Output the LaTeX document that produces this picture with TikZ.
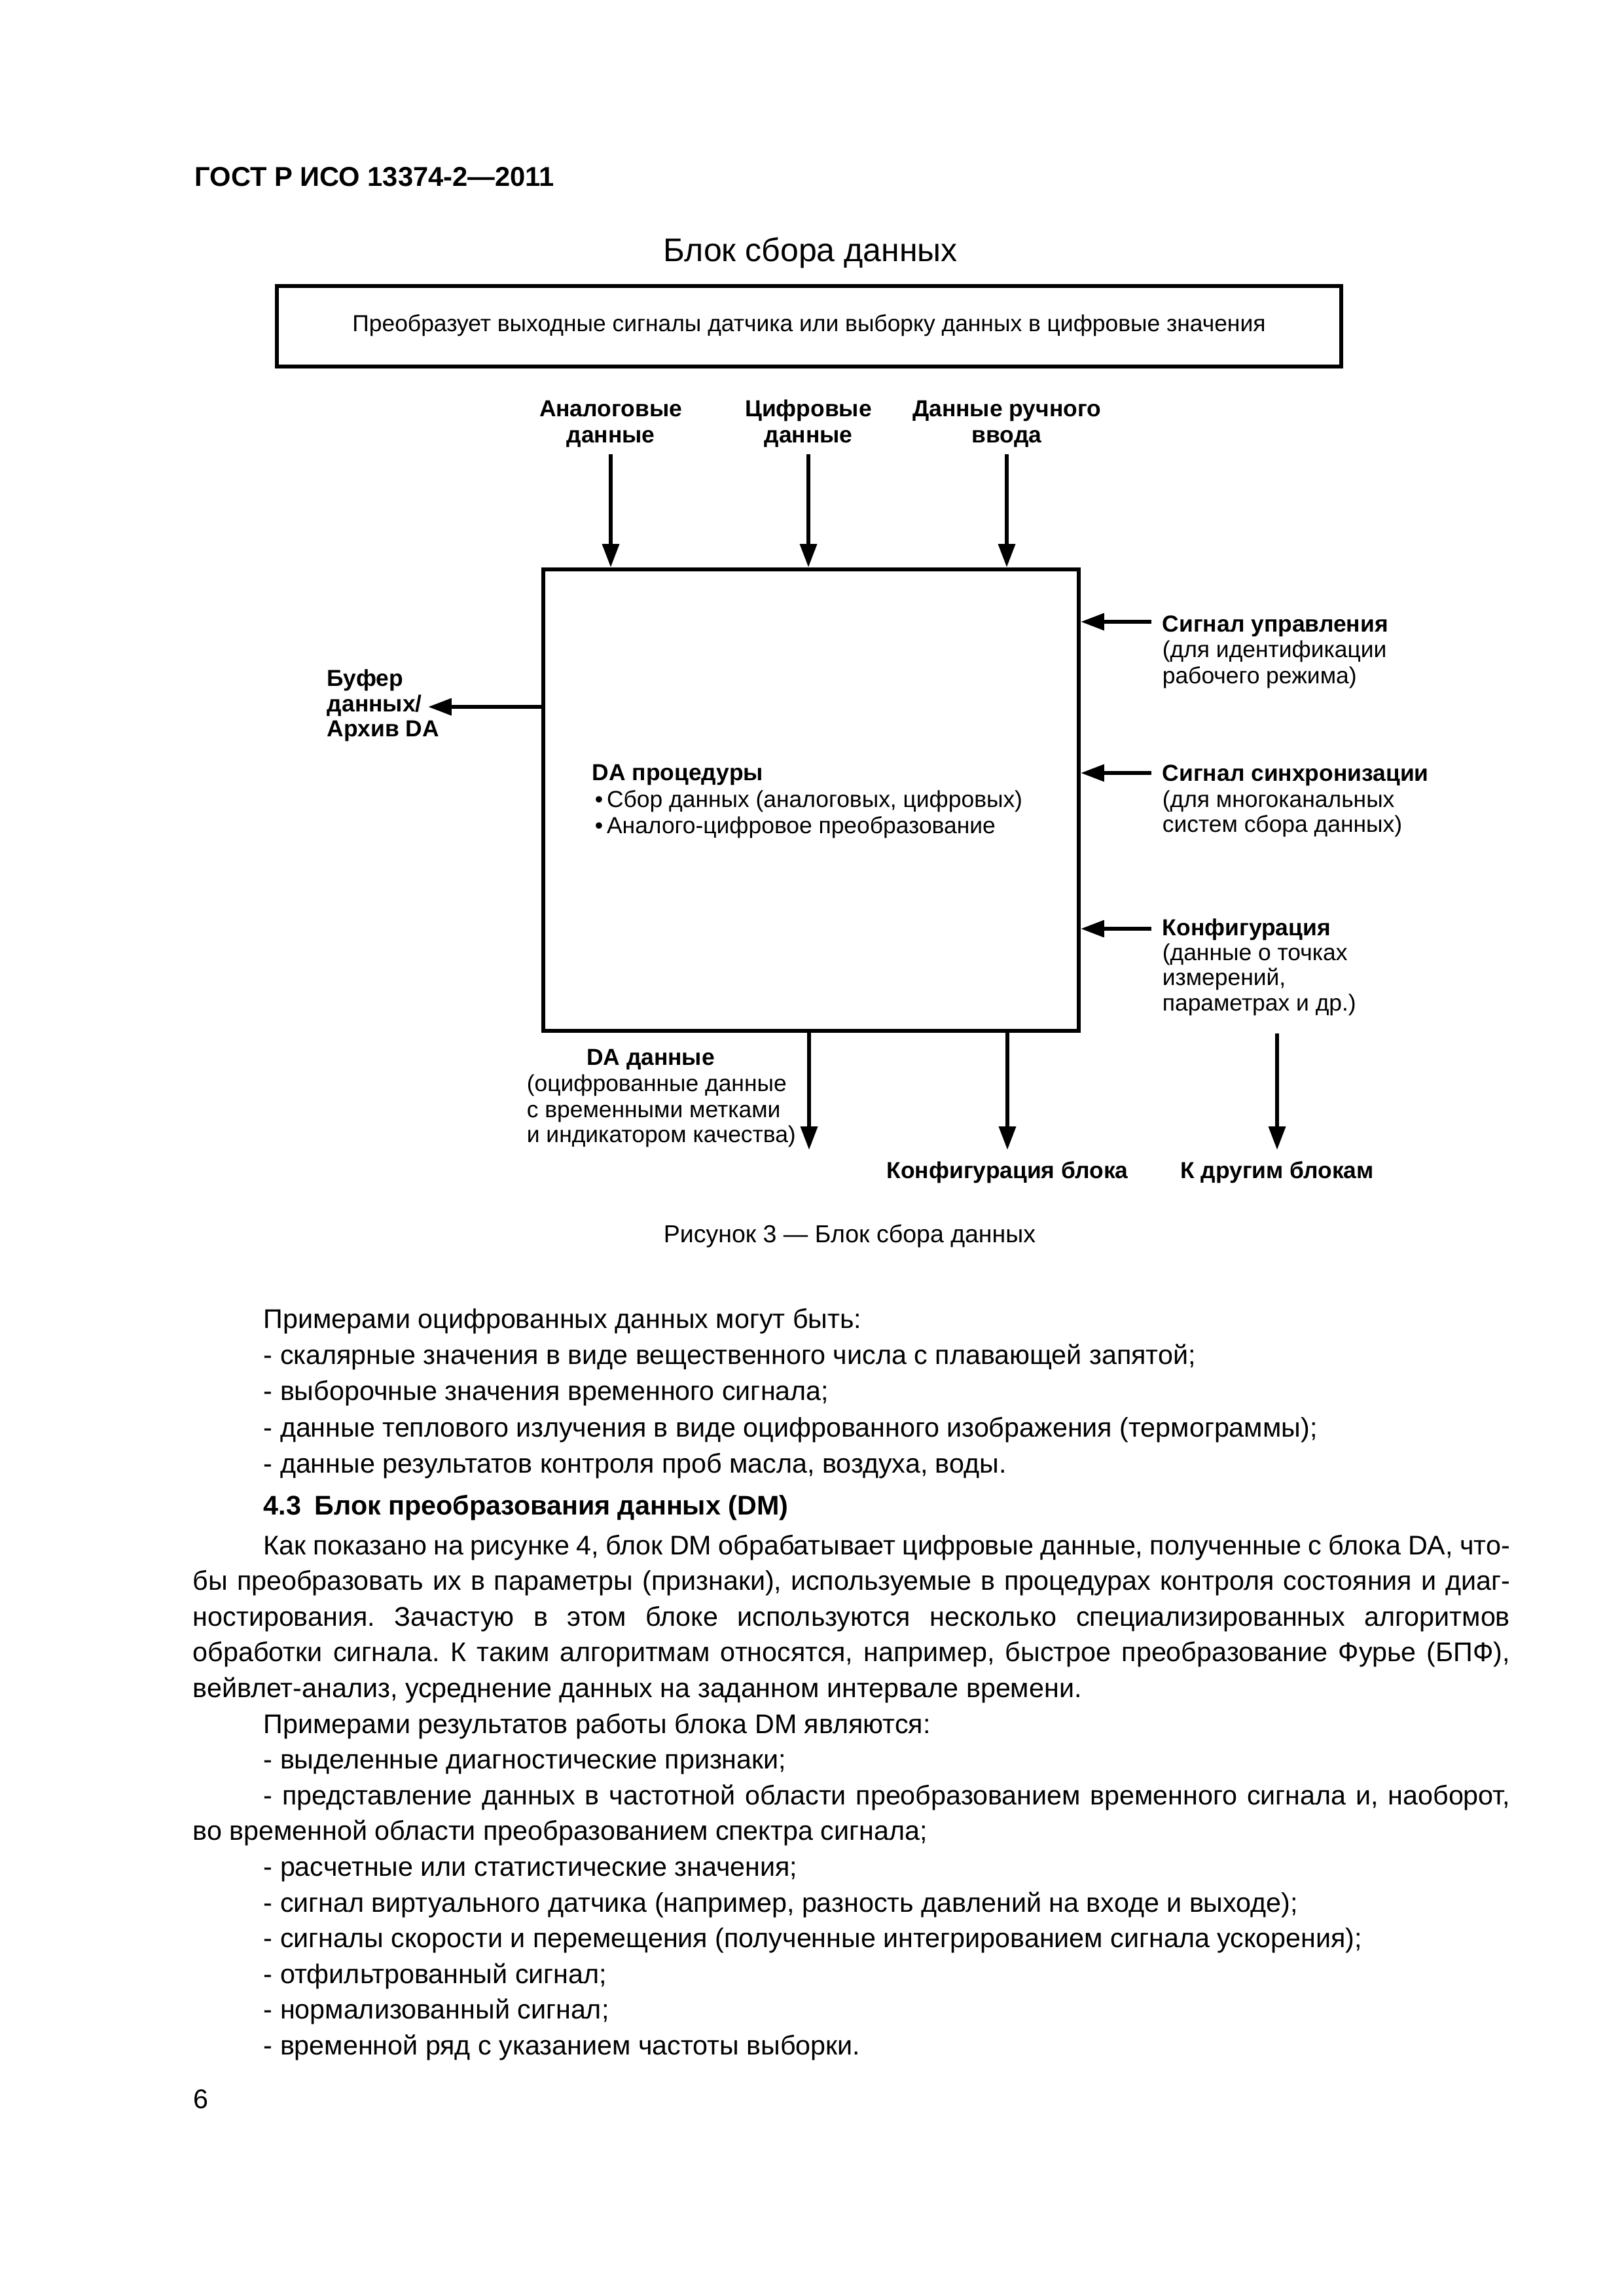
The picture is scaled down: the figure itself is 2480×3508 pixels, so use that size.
\documentclass[tikz,border=0pt]{standalone}
\usepackage{fontspec}
\setmainfont{Liberation Sans}
\usetikzlibrary{arrows.meta}
\newcommand\fsz[2]{\fontsize{#1}{#2}\selectfont}
\frenchspacing
\begin{document}
\begin{tikzpicture}[x=0.24pt,y=-0.24pt,
  lbl/.style={inner sep=0pt, anchor=base west, font=\fsz{8.5}{9.5}},
  lblb/.style={inner sep=0pt, anchor=base west, font=\fsz{8.5}{9.5}\bfseries},
  body/.style={inner sep=0pt, anchor=base west, font=\fsz{9.9}{12}\frenchspacing},
  bodyb/.style={inner sep=0pt, anchor=base west, font=\fsz{9.9}{12}\bfseries},
  boxst/.style={draw, line width=1.45pt, inner sep=0pt},
  arr/.style={line width=1.5pt, -{Triangle[length=8.6pt,width=6pt]}}
]
\fill[white] (0,0) rectangle (2480,3508);
\useasboundingbox (0,0) rectangle (2480,3508);

% header and title
\node[inner sep=0pt, anchor=base west, font=\fsz{10}{12}\bfseries] (hdr) at (297,285) {ГОСТ Р ИСО 13374-2—2011};
\node[inner sep=0pt, anchor=base, font=\fsz{12}{14}] (title) at (1238,400) {Блок сбора данных};

% top box
\node[boxst, minimum width=390.2pt, minimum height=29.5pt] (topbox) at (1236,498.5) {};
\node[inner sep=0pt, anchor=base, font=\fsz{8.5}{9.5}] (toptext) at (1236,507)
  {Преобразует выходные сигналы датчика или выборку данных в цифровые значения};

% main box
\node[boxst, minimum width=196.3pt, minimum height=169.2pt] (mainbox) at (1239,1222.5) {};
\node[lblb] (proc) at (904,1192) {DA процедуры};
\node[lbl] (proc1) at (908,1233) {•\,Сбор данных (аналоговых, цифровых)};
\node[lbl] (proc2) at (908,1273) {•\,Аналого-цифровое преобразование};

% inputs from top
\node[lblb, anchor=base] (inAa) at (933,637) {Аналоговые};
\node[lblb, anchor=base] (inAb) at (933,677) {данные};
\node[lblb, anchor=base] (inBa) at (1235,637) {Цифровые};
\node[lblb, anchor=base] (inBb) at (1235,677) {данные};
\node[lblb, anchor=base] (inCa) at (1538,637) {Данные ручного};
\node[lblb, anchor=base] (inCb) at (1538,677) {ввода};
\coordinate (inA) at (933,694);
\coordinate (inB) at (1235,694);
\coordinate (inC) at (1538,694);
\draw[arr] (inA) -- (inA |- mainbox.north);
\draw[arr] (inB) -- (inB |- mainbox.north);
\draw[arr] (inC) -- (inC |- mainbox.north);

% left output
\node[lblb] (bufa) at (499,1049) {Буфер};
\node[lblb] (bufb) at (499,1087) {данных/};
\node[lblb] (bufc) at (499,1125) {Архив DA};
\coordinate (bufy) at (654,1080);
\draw[arr] (mainbox.west |- bufy) -- (bufy);

% right inputs
\coordinate (csig) at (1759,950);
\coordinate (ssig) at (1759,1181);
\coordinate (cfg) at (1759,1419);
\draw[arr] (csig) -- (csig -| mainbox.east);
\draw[arr] (ssig) -- (ssig -| mainbox.east);
\draw[arr] (cfg) -- (cfg -| mainbox.east);
\node[lblb] (csa) at (1775,965) {Сигнал управления};
\node[lbl] (csb) at (1775,1005) {(для идентификации};
\node[lbl] (csc) at (1775,1044) {рабочего режима)};
\node[lblb] (ssa) at (1775,1193) {Сигнал синхронизации};
\node[lbl] (ssb) at (1775,1233) {(для многоканальных};
\node[lbl] (ssc) at (1775,1271) {систем сбора данных)};
\node[lblb] (cfa) at (1775,1429) {Конфигурация};
\node[lbl] (cfb) at (1775,1467) {(данные о точках};
\node[lbl] (cfc) at (1775,1505) {измерений,};
\node[lbl] (cfd) at (1775,1544) {параметрах и др.)};

% bottom outputs
\coordinate (outA) at (1236,1757);
\coordinate (outB) at (1539,1757);
\coordinate (othA) at (1951,1579);
\coordinate (othB) at (1951,1757);
\draw[arr] (mainbox.south -| outA) -- (outA);
\draw[arr] (mainbox.south -| outB) -- (outB);
\draw[arr] (othA) -- (othB);
\node[lblb, anchor=base] (daa) at (994,1627) {DA данные};
\node[lbl] (dab) at (804,1667) {(оцифрованные данные};
\node[lbl] (dac) at (804,1707) {с временными метками};
\node[lbl] (dad) at (804,1745) {и индикатором качества)};
\node[lblb, anchor=base] (cfgblk) at (1539,1800) {Конфигурация блока};
\node[lblb, anchor=base] (other) at (1951,1800) {К другим блокам};

% caption
\node[inner sep=0pt, anchor=base, font=\fsz{9}{11}] (cap) at (1298,1898) {Рисунок 3 — Блок сбора данных};

% body text
\node[body] (t1) at (402,2029) {Примерами оцифрованных данных могут быть:};
\node[body] (t2) at (402,2084) {- скалярные значения в виде вещественного числа с плавающей запятой;};
\node[body] (t3) at (402,2139) {- выборочные значения временного сигнала;};
\node[body] (t4) at (402,2195) {- данные теплового излучения в виде оцифрованного изображения (термограммы);};
\node[body] (t5) at (402,2250) {- данные результатов контроля проб масла, воздуха, воды.};
\node[bodyb] (h43) at (402,2314) {4.3\enspace Блок преобразования данных (DM)};
\node[body] (p1) at (402,2375) {\makebox[457pt][s]{Как показано на рисунке 4, блок DM обрабатывает цифровые данные, полученные с блока DA, что-}};
\node[body] (p2) at (294,2429.6) {\makebox[482.9pt][s]{бы преобразовать их в параметры (признаки), используемые в процедурах контроля состояния и диаг-}};
\node[body] (p3) at (294,2484.2) {\makebox[482.9pt][s]{ностирования. Зачастую в этом блоке используются несколько специализированных алгоритмов}};
\node[body] (p4) at (294,2538.8) {\makebox[482.9pt][s]{обработки сигнала. К таким алгоритмам относятся, например, быстрое преобразование Фурье (БПФ),}};
\node[body] (p5) at (294,2593.4) {вейвлет-анализ, усреднение данных на заданном интервале времени.};
\node[body] (p6) at (402,2648) {Примерами результатов работы блока DM являются:};
\node[body] (p7) at (402,2702.6) {- выделенные диагностические признаки;};
\node[body] (p8) at (402,2757.2) {\makebox[457pt][s]{- представление данных в частотной области преобразованием временного сигнала и, наоборот,}};
\node[body] (p9) at (294,2811.8) {во временной области преобразованием спектра сигнала;};
\node[body] (p10) at (402,2866.4) {- расчетные или статистические значения;};
\node[body] (p11) at (402,2921) {- сигнал виртуального датчика (например, разность давлений на входе и выходе);};
\node[body] (p12) at (402,2975.6) {- сигналы скорости и перемещения (полученные интегрированием сигнала ускорения);};
\node[body] (p13) at (402,3030.2) {- отфильтрованный сигнал;};
\node[body] (p14) at (402,3084.8) {- нормализованный сигнал;};
\node[body] (p15) at (402,3139.4) {- временной ряд с указанием частоты выборки.};

% page number
\node[body] (pgno) at (295,3221) {6};
\end{tikzpicture}
\end{document}
